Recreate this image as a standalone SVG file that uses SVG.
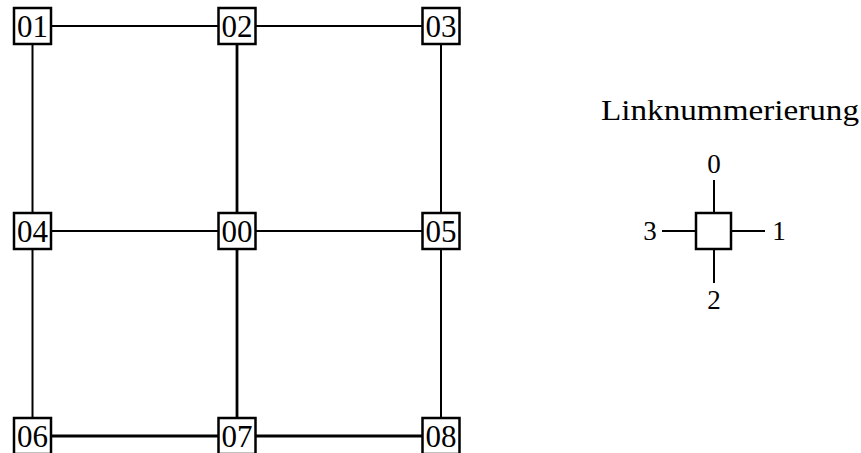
<svg xmlns="http://www.w3.org/2000/svg" width="861" height="453" viewBox="0 0 861 453">
  <style>
    .link { stroke: #000; stroke-width: 2; fill: none; }
    .thick { stroke-width: 2.8; }
    .box { fill: #fff; stroke: #000; stroke-width: 2.5; }
    .lbl { font-family: "Liberation Serif", "DejaVu Serif", serif; font-size: 31px; fill: #000; text-anchor: middle; }
    .leg { font-family: "Liberation Serif", "DejaVu Serif", serif; font-size: 27px; fill: #000; text-anchor: middle; }
    .title { font-size: 30px; }
  </style>
  <rect width="861" height="453" fill="#fff"/>
  <g id="connectors">
    <line class="link" x1="32.5" y1="26" x2="237" y2="26"/>
    <line class="link" x1="237" y1="26" x2="441" y2="26"/>
    <line class="link" x1="32.5" y1="231" x2="237" y2="231"/>
    <line class="link" x1="237" y1="231" x2="441" y2="231"/>
    <line class="link thick" x1="32.5" y1="436" x2="237" y2="436"/>
    <line class="link thick" x1="237" y1="436" x2="441" y2="436"/>
    <line class="link" x1="32.5" y1="26" x2="32.5" y2="231"/>
    <line class="link" x1="32.5" y1="231" x2="32.5" y2="436"/>
    <line class="link thick" x1="237" y1="26" x2="237" y2="231"/>
    <line class="link thick" x1="237" y1="231" x2="237" y2="436"/>
    <line class="link" x1="441" y1="26" x2="441" y2="231"/>
    <line class="link" x1="441" y1="231" x2="441" y2="436"/>
  </g>
  <g id="n01"><rect class="box" x="14" y="8" width="37" height="36"/><text class="lbl" x="32.5" y="37">01</text></g>
  <g id="n02"><rect class="box" x="218.5" y="8" width="37" height="36"/><text class="lbl" x="237" y="37">02</text></g>
  <g id="n03"><rect class="box" x="422.5" y="8" width="37" height="36"/><text class="lbl" x="441" y="37">03</text></g>
  <g id="n04"><rect class="box" x="14" y="213" width="37" height="36"/><text class="lbl" x="32.5" y="242">04</text></g>
  <g id="n00"><rect class="box" x="218.5" y="213" width="37" height="36"/><text class="lbl" x="237" y="242">00</text></g>
  <g id="n05"><rect class="box" x="422.5" y="213" width="37" height="36"/><text class="lbl" x="441" y="242">05</text></g>
  <g id="n06"><rect class="box" x="14" y="418" width="37" height="36"/><text class="lbl" x="32.5" y="447">06</text></g>
  <g id="n07"><rect class="box" x="218.5" y="418" width="37" height="36"/><text class="lbl" x="237" y="447">07</text></g>
  <g id="n08"><rect class="box" x="422.5" y="418" width="37" height="36"/><text class="lbl" x="441" y="447">08</text></g>
  <g id="legend">
    <text class="leg title" x="730" y="120" textLength="258" lengthAdjust="spacingAndGlyphs">Linknummerierung</text>
    <line class="link" x1="714" y1="180" x2="714" y2="213"/>
    <line class="link" x1="662" y1="231" x2="696" y2="231"/>
    <line class="link" x1="731" y1="231" x2="765" y2="231"/>
    <line class="link" x1="714" y1="249" x2="714" y2="283"/>
    <rect class="box" x="696" y="213" width="35" height="36"/>
    <text class="leg" x="714" y="173">0</text>
    <text class="leg" x="779" y="240">1</text>
    <text class="leg" x="714" y="309">2</text>
    <text class="leg" x="650" y="240">3</text>
  </g>
</svg>
